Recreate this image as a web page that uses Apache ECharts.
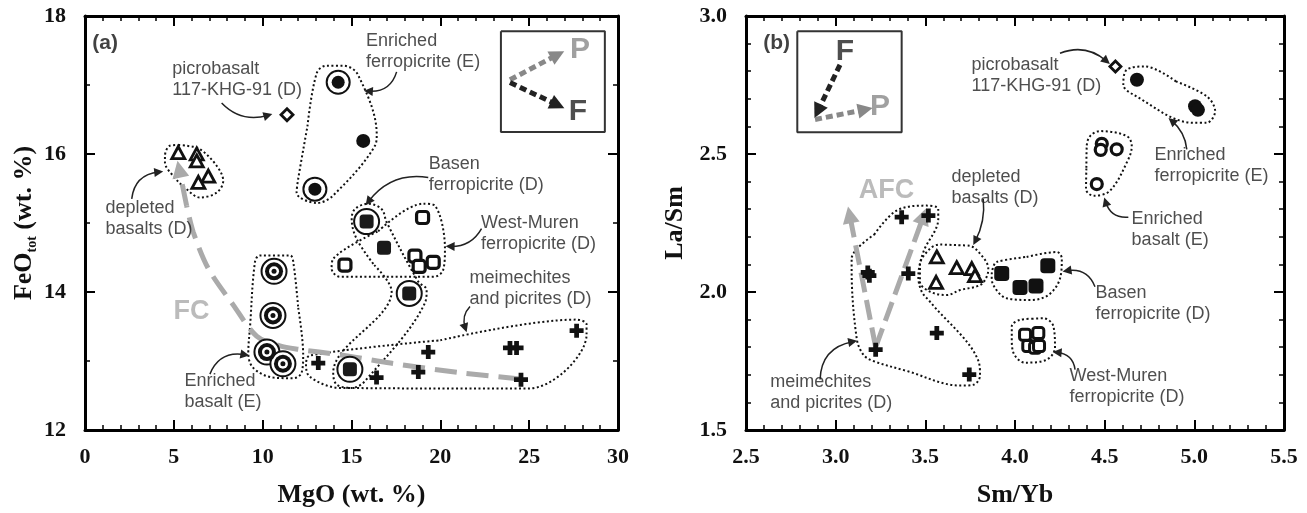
<!DOCTYPE html>
<html><head><meta charset="utf-8">
<script src="https://cdn.jsdelivr.net/npm/echarts@6/dist/echarts.min.js"></script>
<style>html,body{margin:0;padding:0;background:#fff}#c{width:1307px;height:513px}</style>
</head><body><div id="c"></div>
<script>
// ================= Panel (a): MgO (wt.%) vs FeOtot (wt.%) =================
const A_xRange = {min: 0, max: 30, interval: 5};
const A_yRange = {min: 12, max: 18, interval: 2};
const A_picrobasalt = [[11.37, 16.57]];
const A_depletedBasalts = [[5.25, 16.02], [6.29, 16.0], [6.29, 15.90], [6.94, 15.68], [6.38, 15.59]];
const A_enrFerroRinged = [[14.25, 17.04], [12.94, 15.49]];
const A_enrFerroPlain = [[15.66, 16.19]];
const A_enrBasalt = [[10.64, 14.30], [10.58, 13.66], [10.24, 13.13], [11.14, 12.96]];
const A_basenRinged = [[15.85, 15.02], [18.25, 13.98], [14.91, 12.88]];
const A_basenPlain = [[16.83, 14.64]];
const A_westMuren = [[19.0, 15.08], [14.63, 14.39], [18.57, 14.52], [18.81, 14.37], [19.6, 14.43]];
const A_meimechites = [[13.13, 12.97], [16.41, 12.76], [19.32, 13.13], [18.76, 12.84], [23.92, 13.19], [24.29, 13.19], [24.54, 12.73], [27.67, 13.44]];
const A_fcTrend = [[24.5, 12.74], [21.1, 12.83], [17.2, 12.97], [14.35, 13.09], [12.0, 13.17], [10.97, 13.22], [9.66, 13.36], [8.35, 13.81], [6.94, 14.34], [6.09, 14.87], [5.72, 15.25]];
const A_fcTip = [5.3, 15.78];
// group outlines (data space)
const A_hullDepleted = [[5.25, 16.13], [5.72, 16.12], [6.47, 16.07], [7.41, 15.83], [7.78, 15.61], [7.41, 15.44], [6.47, 15.37], [5.72, 15.49], [4.97, 15.68], [4.50, 15.88], [4.50, 15.97], [4.78, 16.12]];
const A_hullEnrFerro = [[12.52, 16.40], [13.04, 17.17], [13.60, 17.28], [14.54, 17.28], [15.36, 17.15], [16.42, 16.28], [16.32, 16.12], [13.97, 15.40], [13.04, 15.29], [11.91, 15.44], [12.00, 15.64]];
const A_hullEnrBasalt = [[12.0, 13.77], [12.28, 13.09], [12.19, 12.83], [11.72, 12.75], [10.60, 12.76], [9.47, 12.90], [9.19, 13.12], [9.29, 13.50], [9.57, 14.44], [9.85, 14.53], [11.54, 14.53], [11.72, 14.44]];
const A_hullBasen = [[16.28, 14.39], [17.26, 14.01], [13.97, 12.83], [14.16, 12.66], [15.01, 12.61], [15.76, 12.71], [19.13, 13.84], [19.23, 14.03], [18.76, 14.15], [16.98, 15.01], [16.70, 15.20], [15.94, 15.28], [15.19, 15.20], [15.01, 15.06], [15.29, 14.77]];
const A_hullWestMuren = [[16.5, 14.88], [19.04, 15.28], [19.70, 15.25], [20.26, 14.63], [20.16, 14.32], [19.60, 14.22], [14.35, 14.22], [13.88, 14.34], [13.97, 14.48]];
const A_hullMeim = [[20.0, 13.30], [27.67, 13.60], [28.23, 13.53], [28.23, 13.38], [24.95, 12.60], [14.35, 12.61], [12.66, 12.77], [12.44, 12.95], [12.66, 13.08]];
// callout arrows [from, to]
const A_callouts = [
  [[7.69, 16.74], [10.30, 16.56]],
  [[2.63, 15.35], [4.15, 15.74]],
  [[17.54, 17.19], [15.95, 16.91]],
  [[19.32, 15.66], [15.95, 15.31]],
  [[22.32, 14.92], [20.55, 14.66]],
  [[21.67, 13.79], [21.40, 13.48]],
  [[7.03, 12.81], [9.0, 13.09]]
];
const A_texts = [
  {name: 'picrobasalt\n117-KHG-91 (D)', at: [4.94, 17.37]},
  {name: 'Enriched\nferropicrite (E)', at: [15.85, 17.78]},
  {name: 'depleted\nbasalts (D)', at: [1.18, 15.36]},
  {name: 'Basen\nferropicrite (D)', at: [19.38, 16.0]},
  {name: 'West-Muren\nferropicrite (D)', at: [22.32, 15.14]},
  {name: 'meimechites\nand picrites (D)', at: [21.67, 14.35]},
  {name: 'Enriched\nbasalt (E)', at: [5.63, 12.86]}
];
const A_insetBox = [[23.41, 17.78], [29.26, 17.78], [29.26, 16.32], [23.41, 16.32]];
const A_insetP = [[23.92, 17.075], [26.6, 17.44]];
const A_insetF = [[23.92, 17.036], [26.6, 16.71]];

// ================= Panel (b): Sm/Yb vs La/Sm =================
const B_xRange = {min: 2.5, max: 5.5, interval: 0.5};
const B_yRange = {min: 1.5, max: 3.0, interval: 0.5};
const B_picrobasalt = [[4.56, 2.817]];
const B_enrFerro = [[4.68, 2.769], [5.004, 2.673], [5.02, 2.66]];
const B_enrBasalt = [[4.484, 2.537], [4.478, 2.515], [4.567, 2.517], [4.456, 2.391]];
const B_depletedBasalts = [[3.564, 2.127], [3.675, 2.088], [3.759, 2.085], [3.777, 2.059], [3.560, 2.035]];
const B_basen = [[3.926, 2.067], [4.028, 2.016], [4.117, 2.022], [4.183, 2.095]];
const B_westMuren = [[4.056, 1.845], [4.130, 1.851], [4.074, 1.804], [4.112, 1.798], [4.134, 1.804]];
const B_meimechites = [[3.368, 2.271], [3.517, 2.277], [3.179, 2.071], [3.188, 2.059], [3.405, 2.067], [3.223, 1.791], [3.564, 1.851], [3.745, 1.701]];
const B_afcTrends = [
  [[3.223, 1.80], [3.078, 2.28]],
  [[3.223, 1.80], [3.49, 2.275]]
];
const B_hullEnrFerro = [[4.897, 2.763], [5.069, 2.709], [5.116, 2.655], [5.069, 2.613], [4.995, 2.613], [4.660, 2.715], [4.604, 2.751], [4.623, 2.805], [4.725, 2.817]];
const B_hullEnrBasalt = [[4.398, 2.45], [4.400, 2.529], [4.419, 2.565], [4.474, 2.583], [4.623, 2.565], [4.651, 2.529], [4.632, 2.481], [4.530, 2.367], [4.437, 2.349], [4.396, 2.373]];
const B_hullDepleted = [[3.66, 2.170], [3.749, 2.167], [3.805, 2.139], [3.851, 2.085], [3.842, 2.055], [3.805, 2.025], [3.694, 2.007], [3.619, 1.989], [3.526, 2.001], [3.470, 2.037], [3.470, 2.097], [3.526, 2.157], [3.582, 2.172]];
const B_hullBasen = [[4.065, 2.127], [4.233, 2.145], [4.261, 2.121], [4.251, 2.049], [4.186, 1.989], [4.084, 1.971], [3.954, 1.977], [3.879, 2.025], [3.870, 2.061], [3.879, 2.091], [3.898, 2.109]];
const B_hullWestMuren = [[4.093, 1.903], [4.158, 1.905], [4.214, 1.876], [4.223, 1.798], [4.177, 1.755], [4.056, 1.744], [3.991, 1.780], [3.982, 1.833], [3.982, 1.876], [4.028, 1.899]];
const B_hullMeim = [[3.215, 2.208], [3.340, 2.295], [3.508, 2.313], [3.572, 2.301], [3.572, 2.265], [3.489, 2.145], [3.461, 2.055], [3.480, 2.001], [3.526, 1.965], [3.796, 1.750], [3.805, 1.697], [3.768, 1.664], [3.694, 1.661], [3.396, 1.714], [3.210, 1.750], [3.154, 1.773], [3.117, 1.833], [3.089, 2.085], [3.089, 2.121]];
const B_callouts = [
  [[4.251, 2.865], [4.51, 2.837]],
  [[4.958, 2.517], [4.875, 2.62]],
  [[4.632, 2.271], [4.505, 2.327]],
  [[3.823, 2.337], [3.779, 2.185]],
  [[4.446, 2.019], [4.29, 2.077]],
  [[4.335, 1.719], [4.235, 1.781]],
  [[2.913, 1.683], [3.095, 1.82]]
];
const B_texts = [
  {name: 'picrobasalt\n117-KHG-91 (D)', at: [3.760, 2.860]},
  {name: 'Enriched\nferropicrite (E)', at: [4.781, 2.531]},
  {name: 'Enriched\nbasalt (E)', at: [4.653, 2.301]},
  {name: 'depleted\nbasalts (D)', at: [3.649, 2.452]},
  {name: 'Basen\nferropicrite (D)', at: [4.452, 2.033]},
  {name: 'West-Muren\nferropicrite (D)', at: [4.307, 1.733]},
  {name: 'meimechites\nand picrites (D)', at: [2.638, 1.709]}
];
const B_insetBox = [[2.786, 2.945], [3.368, 2.945], [3.368, 2.579], [2.786, 2.579]];
const B_insetF = [[3.024, 2.823], [2.90, 2.655]];
const B_insetP = [[2.885, 2.625], [3.165, 2.661]];

// ================= styling helpers =================
const serif = 'Liberation Serif', sans = 'Liberation Sans';
const INK = '#111', GREY = '#aaaaaa';
const A_callCurv = [-0.3, 0.4, 0.4, -0.3, 0.3, -0.3, 0.4];
const B_callCurv = [0.3, -0.2, 0.4, 0.15, -0.4, -0.4, 0.4];
const PLUS = 'path://M3.3,0H6.7V3.3H10V6.7H6.7V10H3.3V6.7H0V3.3H3.3Z';

function mkAxis(o) {
  const base = {
    type: 'value',
    axisLine: {show: true, onZero: false, lineStyle: {color: '#000', width: 3}},
    axisTick: {show: true, inside: true, length: 10, lineStyle: {color: '#000', width: 2}},
    minorTick: {show: true, splitNumber: o.minor, length: 5, lineStyle: {color: '#000', width: 1.5}},
    splitLine: {show: false}, minorSplitLine: {show: false},
    axisLabel: {show: !!o.labels, showMinLabel: true, showMaxLabel: true, fontFamily: serif, fontWeight: 'bold', fontSize: 22, color: INK, margin: o.margin || 16, formatter: o.fmt}
  };
  return Object.assign(base, o.extra);
}
const closeRing = pts => pts.concat([pts[0]]);
const ax = g => ({xAxisIndex: g * 2, yAxisIndex: g * 2});

function hull(g, pts) {
  return Object.assign({type: 'line', data: closeRing(pts), smooth: 0.35, symbol: 'none', silent: true, z: 1,
    lineStyle: {color: INK, width: 2, type: [2, 2.5]}}, ax(g));
}
function scat(g, data, symbol, size, fill, border, bw, z) {
  return Object.assign({type: 'scatter', data, symbol, symbolSize: size, silent: true, z: z || 5,
    itemStyle: {color: fill, borderColor: border || INK, borderWidth: bw || 0, opacity: 1}}, ax(g));
}
function texts(g, list, style, centered) {
  return Object.assign({type: 'scatter', symbolSize: 1, silent: true, z: 8,
    itemStyle: {color: 'rgba(0,0,0,0)'},
    data: list.map(t => ({name: t.name, value: t.at})),
    label: Object.assign({show: true, formatter: p => p.name,
      position: centered ? 'inside' : [0, 0], align: centered ? 'center' : 'left', verticalAlign: centered ? 'middle' : 'top'}, style)}, ax(g));
}
function callouts(g, list, curv) {
  return Object.assign({type: 'lines', coordinateSystem: 'cartesian2d', silent: true, z: 4,
    symbol: ['none', 'triangle'], symbolSize: [0, 9],
    lineStyle: {color: '#222', width: 1.5, opacity: 1},
    itemStyle: {color: '#222'},
    data: list.map((c, i) => ({coords: c, lineStyle: {curveness: curv[i]}}))}, ax(g));
}
function arrow(g, coords, color, width, dash, size, z) {
  return Object.assign({type: 'lines', coordinateSystem: 'cartesian2d', silent: true, z: z || 3,
    symbol: ['none', 'triangle'], symbolSize: [0, size],
    lineStyle: {color, width, type: dash, opacity: 1}, itemStyle: {color},
    data: [{coords}]}, ax(g));
}
function box(g, pts) {
  return Object.assign({type: 'line', data: closeRing(pts), symbol: 'none', silent: true, z: 3,
    lineStyle: {color: '#333', width: 2}}, ax(g));
}

const noteStyle = {fontFamily: sans, fontSize: 18, lineHeight: 21, color: '#222'};
const bigGrey = {fontFamily: sans, fontWeight: 'bold', fontSize: 27, color: GREY};

const series = [
  // ---- panel a ----
  hull(0, A_hullDepleted), hull(0, A_hullEnrFerro), hull(0, A_hullEnrBasalt), hull(0, A_hullBasen), hull(0, A_hullWestMuren), hull(0, A_hullMeim),
  Object.assign({type: 'line', data: A_fcTrend, smooth: 0.3, symbol: 'none', silent: true, z: 2,
    lineStyle: {color: GREY, width: 5, type: [22, 10]}}, ax(0)),
  arrow(0, [A_fcTrend[A_fcTrend.length - 1], A_fcTip], GREY, 5, [22, 10], 17, 2),
  box(0, A_insetBox),
  arrow(0, A_insetP, '#888', 5, [7, 4], 15),
  arrow(0, A_insetF, '#222', 5, [7, 4], 15),
  callouts(0, A_callouts, A_callCurv),
  scat(0, A_picrobasalt, 'diamond', 12, '#fff', INK, 2.8),
  scat(0, A_depletedBasalts, 'triangle', [13, 12], '#fff', INK, 2.8),
  scat(0, A_enrFerroRinged, 'circle', 23, '#fff', INK, 2, 5),
  scat(0, A_enrFerroRinged, 'circle', 13, INK, INK, 0, 6),
  scat(0, A_enrFerroPlain, 'circle', 14, INK, INK, 0, 6),
  scat(0, A_enrBasalt, 'circle', 25, '#fff', INK, 2, 5),
  scat(0, A_enrBasalt, 'circle', 18, INK, INK, 0, 6),
  scat(0, A_enrBasalt, 'circle', 10, '#fff', INK, 0, 6),
  scat(0, A_enrBasalt, 'circle', 5, INK, INK, 0, 6),
  scat(0, A_basenRinged, 'circle', 25, '#fff', INK, 2, 5),
  scat(0, A_basenRinged, 'roundRect', 14, '#1a1a1a', INK, 0, 6),
  scat(0, A_basenPlain, 'roundRect', 14, '#1a1a1a', INK, 0, 6),
  scat(0, A_westMuren, 'roundRect', 12, '#fff', INK, 3.2, 6),
  scat(0, A_meimechites, PLUS, 14, INK, INK, 0, 6),
  texts(0, A_texts, noteStyle, false),
  texts(0, [{name: 'FC', at: [6.0, 13.72]}], bigGrey, true),
  texts(0, [{name: 'P', at: [27.86, 17.51]}], {fontFamily: sans, fontWeight: 'bold', fontSize: 30, color: '#888'}, true),
  texts(0, [{name: 'F', at: [27.74, 16.61]}], {fontFamily: sans, fontWeight: 'bold', fontSize: 30, color: '#222'}, true),
  texts(0, [{name: '(a)', at: [1.13, 17.61]}], {fontFamily: sans, fontWeight: 'bold', fontSize: 21, color: INK}, true),
  // ---- panel b ----
  hull(1, B_hullEnrFerro), hull(1, B_hullEnrBasalt), hull(1, B_hullDepleted), hull(1, B_hullBasen), hull(1, B_hullWestMuren), hull(1, B_hullMeim),
  arrow(1, B_afcTrends[0], GREY, 5, [20, 8], 17, 2),
  arrow(1, B_afcTrends[1], GREY, 5, [20, 8], 17, 2),
  box(1, B_insetBox),
  arrow(1, B_insetF, '#222', 5, [7, 4], 15),
  arrow(1, B_insetP, '#888', 5, [7, 4], 15),
  callouts(1, B_callouts, B_callCurv),
  scat(1, B_picrobasalt, 'diamond', 11, '#fff', INK, 2.8),
  scat(1, B_enrFerro, 'circle', 14, INK, INK, 0),
  scat(1, B_enrBasalt, 'circle', 11, '#fff', INK, 3.2),
  scat(1, B_depletedBasalts, 'triangle', [13, 12], '#fff', INK, 2.8),
  scat(1, B_basen, 'roundRect', 15, INK, INK, 0),
  scat(1, B_westMuren, 'roundRect', 11, '#fff', INK, 3),
  scat(1, B_meimechites, PLUS, 14, INK, INK, 0),
  texts(1, B_texts, noteStyle, false),
  texts(1, [{name: 'AFC', at: [3.284, 2.367]}], bigGrey, true),
  texts(1, [{name: 'F', at: [3.052, 2.871]}], {fontFamily: sans, fontWeight: 'bold', fontSize: 30, color: '#222'}, true),
  texts(1, [{name: 'P', at: [3.247, 2.673]}], {fontFamily: sans, fontWeight: 'bold', fontSize: 30, color: '#888'}, true),
  texts(1, [{name: '(b)', at: [2.671, 2.902]}], {fontFamily: sans, fontWeight: 'bold', fontSize: 21, color: INK}, true)
];

const nameStyle = {fontFamily: serif, fontWeight: 'bold', fontSize: 26, color: INK};
const f1 = v => v.toFixed(1);
const option = {
  animation: false,
  backgroundColor: '#fff',
  grid: [
    {left: 85, top: 16, width: 533, height: 417},
    {left: 746, top: 16, width: 538, height: 417}
  ],
  xAxis: [
    mkAxis({minor: 5, labels: true, margin: 16, extra: Object.assign({gridIndex: 0, position: 'bottom', name: 'MgO (wt. %)', nameLocation: 'middle', nameGap: 52, nameTextStyle: nameStyle}, A_xRange)}),
    mkAxis({minor: 5, labels: false, extra: Object.assign({gridIndex: 0, position: 'top'}, A_xRange)}),
    mkAxis({minor: 5, labels: true, margin: 16, fmt: f1, extra: Object.assign({gridIndex: 1, position: 'bottom', name: 'Sm/Yb', nameLocation: 'middle', nameGap: 52, nameTextStyle: nameStyle}, B_xRange)}),
    mkAxis({minor: 5, labels: false, extra: Object.assign({gridIndex: 1, position: 'top'}, B_xRange)})
  ],
  yAxis: [
    mkAxis({minor: 2, labels: true, margin: 19, extra: Object.assign({gridIndex: 0, position: 'left', name: '{m|FeO}{s|tot}{m| (wt. %)}', nameLocation: 'middle', nameGap: 46,
      nameTextStyle: {rich: {m: Object.assign({lineHeight: 30}, nameStyle), s: {fontFamily: serif, fontWeight: 'bold', fontSize: 14, color: INK, verticalAlign: 'bottom', lineHeight: 14}}}}, A_yRange)}),
    mkAxis({minor: 2, labels: false, extra: Object.assign({gridIndex: 0, position: 'right'}, A_yRange)}),
    mkAxis({minor: 5, labels: true, margin: 19, fmt: f1, extra: Object.assign({gridIndex: 1, position: 'left', name: 'La/Sm', nameLocation: 'middle', nameGap: 58, nameTextStyle: nameStyle}, B_yRange)}),
    mkAxis({minor: 5, labels: false, extra: Object.assign({gridIndex: 1, position: 'right'}, B_yRange)})
  ],
  series
};
const chart = echarts.init(document.getElementById('c'));
chart.setOption(option);
</script></body></html>
